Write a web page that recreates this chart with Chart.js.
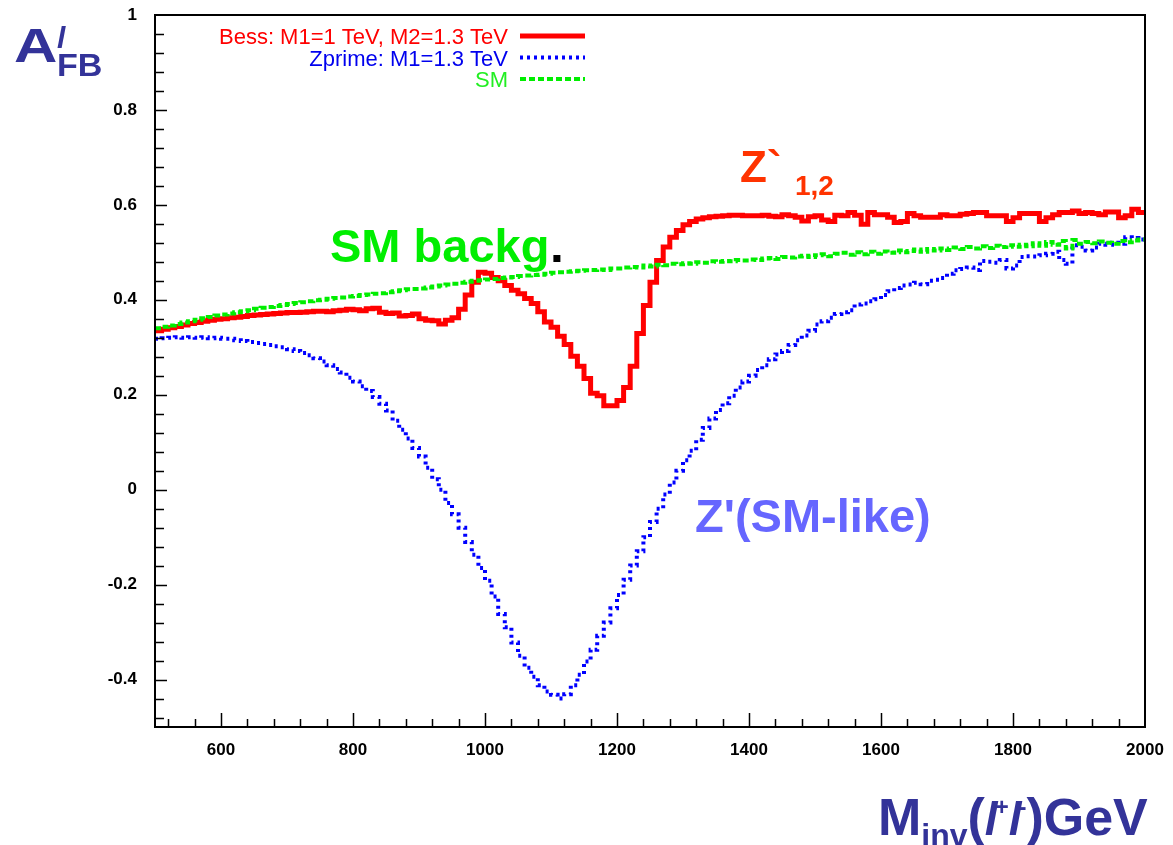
<!DOCTYPE html>
<html>
<head>
<meta charset="utf-8">
<title>A_FB vs M_inv</title>
<script src="https://cdn.jsdelivr.net/npm/chart.js@4.4.0/dist/chart.umd.min.js"></script>
<style>
  html,body{margin:0;padding:0;background:#fff;}
  #wrap{position:relative;width:1173px;height:845px;}
</style>
</head>
<body>
<div id="wrap"><canvas id="afb" width="1173" height="845"></canvas></div>
<script>
/* ============================================================
   Forward-backward asymmetry A_FB vs dilepton invariant mass.
   Three 10 GeV histograms (Bess, Zprime, SM), drawn as stepped
   lines on a linear x axis, ROOT-like frame with inside ticks.
   ============================================================ */

const FONT = '"Liberation Sans", Arial, Helvetica, sans-serif';

// bin centres, 10 GeV wide, 500..2000 GeV
const binCentres = Array.from({length:150}, (_,i) => 505 + 10*i);

const bess = [
  0.335,0.338,0.341,0.344,0.347,0.350,0.352,0.355,0.357,0.359,
  0.360,0.362,0.363,0.365,0.367,0.368,0.369,0.370,0.371,0.372,
  0.373,0.373,0.374,0.375,0.376,0.376,0.375,0.377,0.378,0.380,
  0.379,0.377,0.381,0.382,0.374,0.371,0.372,0.366,0.367,0.370,
  0.360,0.357,0.356,0.349,0.357,0.362,0.380,0.410,0.437,0.458,
  0.456,0.447,0.440,0.430,0.420,0.413,0.403,0.392,0.375,0.353,
  0.342,0.323,0.306,0.281,0.260,0.234,0.203,0.198,0.177,0.177,
  0.188,0.215,0.260,0.329,0.388,0.437,0.483,0.511,0.532,0.546,
  0.558,0.565,0.570,0.573,0.575,0.576,0.577,0.578,0.578,0.577,
  0.577,0.577,0.578,0.576,0.575,0.579,0.577,0.574,0.566,0.575,
  0.577,0.568,0.565,0.578,0.577,0.584,0.578,0.559,0.584,0.579,
  0.579,0.574,0.563,0.565,0.582,0.577,0.574,0.574,0.574,0.579,
  0.577,0.577,0.580,0.582,0.584,0.584,0.577,0.577,0.577,0.565,
  0.573,0.582,0.582,0.582,0.565,0.573,0.579,0.584,0.584,0.587,
  0.582,0.584,0.582,0.579,0.585,0.585,0.573,0.577,0.591,0.584
];

const zprime = [
  0.318,0.319,0.320,0.321,0.320,0.321,0.320,0.321,0.319,0.320,
  0.318,0.318,0.315,0.313,0.311,0.309,0.307,0.305,0.302,0.300,
  0.296,0.292,0.288,0.283,0.277,0.270,0.262,0.254,0.247,0.236,
  0.228,0.218,0.208,0.195,0.181,0.167,0.145,0.126,0.108,0.088,
  0.070,0.046,0.022,0.000,-0.028,-0.052,-0.080,-0.110,-0.137,-0.165,
  -0.192,-0.225,-0.262,-0.290,-0.322,-0.350,-0.375,-0.394,-0.412,-0.425,
  -0.432,-0.440,-0.431,-0.412,-0.390,-0.362,-0.337,-0.308,-0.280,-0.250,
  -0.222,-0.190,-0.160,-0.130,-0.100,-0.068,-0.040,-0.010,0.015,0.040,
  0.062,0.082,0.105,0.130,0.150,0.168,0.182,0.198,0.215,0.228,
  0.240,0.252,0.262,0.275,0.285,0.292,0.305,0.315,0.325,0.335,
  0.348,0.355,0.362,0.370,0.374,0.378,0.390,0.392,0.397,0.401,
  0.410,0.418,0.425,0.430,0.432,0.436,0.433,0.440,0.442,0.446,
  0.455,0.462,0.465,0.468,0.463,0.482,0.480,0.478,0.484,0.466,
  0.472,0.490,0.492,0.491,0.494,0.497,0.501,0.484,0.476,0.515,
  0.512,0.504,0.510,0.518,0.516,0.520,0.518,0.532,0.530,0.527
];

const sm = [
  0.340,0.343,0.346,0.349,0.352,0.355,0.358,0.361,0.364,0.367,
  0.369,0.371,0.374,0.376,0.378,0.381,0.383,0.385,0.387,0.389,
  0.391,0.393,0.395,0.397,0.399,0.400,0.402,0.404,0.405,0.407,
  0.408,0.410,0.411,0.413,0.414,0.416,0.418,0.420,0.422,0.423,
  0.424,0.426,0.428,0.430,0.432,0.434,0.436,0.438,0.440,0.441,
  0.443,0.444,0.446,0.447,0.448,0.450,0.451,0.452,0.453,0.455,
  0.457,0.458,0.459,0.460,0.461,0.462,0.463,0.464,0.463,0.466,
  0.466,0.468,0.469,0.468,0.472,0.470,0.474,0.473,0.476,0.475,
  0.477,0.476,0.479,0.478,0.481,0.480,0.482,0.481,0.484,0.483,
  0.485,0.484,0.487,0.488,0.486,0.490,0.489,0.491,0.493,0.490,
  0.494,0.496,0.492,0.497,0.499,0.495,0.500,0.496,0.501,0.497,
  0.502,0.499,0.504,0.500,0.503,0.506,0.501,0.507,0.504,0.508,
  0.505,0.510,0.507,0.511,0.508,0.513,0.509,0.514,0.511,0.515,
  0.512,0.516,0.513,0.519,0.514,0.522,0.516,0.524,0.508,0.526,
  0.518,0.522,0.519,0.523,0.520,0.518,0.524,0.521,0.525,0.527
];

const xTicks = [600,800,1000,1200,1400,1600,1800,2000];
const yTicks = [-0.4,-0.2,0,0.2,0.4,0.6,0.8,1];
const xRange = [500,2000], yRange = [-0.5,1.0];

const legendRows = [
  {label:'Bess: M1=1 TeV, M2=1.3 TeV', color:'#ff0000', text:'#ff0000', width:5, dash:[]},
  {label:'Zprime: M1=1.3 TeV', color:'#0000ff', text:'#0000ee', width:4, dash:[3,4]},
  {label:'SM', color:'#00ee00', text:'#22ee22', width:4, dash:[6,3]}
];

// histogram -> stepped points, closing the half bins at both edges
function histPoints(vals){
  const pts = binCentres.map((c,i) => ({x:c, y:vals[i]}));
  pts.unshift({x:xRange[0], y:vals[0]});
  pts.push({x:xRange[1], y:vals[vals.length-1]});
  return pts;
}

function txt(ctx, s, x, y, font, color, align){
  ctx.font = font; ctx.fillStyle = color; ctx.textAlign = align || 'left';
  ctx.textBaseline = 'alphabetic';
  ctx.fillText(s, x, y);
  return ctx.measureText(s).width;
}

// text stretched horizontally by sx (ROOT fonts render wider than Liberation)
function wideTxt(ctx, s, x, y, font, color, sx){
  ctx.save();
  ctx.translate(x, y); ctx.scale(sx, 1);
  const w = txt(ctx, s, 0, 0, font, color);
  ctx.restore();
  return w*sx;
}

const framePlugin = {
  id:'frame',
  afterDatasetsDraw(chart){
    const {ctx, chartArea:a, scales:{x, y}} = chart;
    ctx.save();
    ctx.strokeStyle = '#000';
    ctx.lineWidth = 2;
    ctx.strokeRect(a.left, a.top, a.right-a.left, a.bottom-a.top);
    ctx.lineWidth = 1.5;
    ctx.beginPath();
    for(let v = 520; v < 2000; v += 40){
      const px = Math.round(x.getPixelForValue(v)) + 0.5;
      const len = v % 200 === 0 ? 14 : 8;
      ctx.moveTo(px, a.bottom); ctx.lineTo(px, a.bottom - len);
    }
    for(let k = -12; k < 25; k++){
      const py = Math.round(y.getPixelForValue(k*0.04)) + 0.5;
      const len = k % 5 === 0 ? 12 : 9;
      ctx.moveTo(a.left, py); ctx.lineTo(a.left + len, py);
    }
    ctx.stroke();
    ctx.restore();
  },
  afterDraw(chart){
    const ctx = chart.ctx;
    ctx.save();
    // legend, text right aligned, sample line to the right
    legendRows.forEach((r,i) => {
      const yy = 36 + i*21.5;
      txt(ctx, r.label, 508, yy + 8, '22px ' + FONT, r.text, 'right');
      ctx.beginPath();
      ctx.setLineDash(r.dash);
      ctx.strokeStyle = r.color; ctx.lineWidth = r.width;
      ctx.moveTo(520, yy); ctx.lineTo(585, yy);
      ctx.stroke();
    });
    ctx.setLineDash([]);

    // y title  A^l_FB
    const navy = '#333399';
    wideTxt(ctx, 'A', 14, 62, 'bold 48px ' + FONT, navy, 1.25);
    txt(ctx, 'l', 57, 48, 'italic bold 30px ' + FONT, navy);
    wideTxt(ctx, 'FB', 57, 76, 'bold 31px ' + FONT, navy, 1.1);

    // x title  M_inv(l+l-)GeV
    let xx = 878;
    xx += txt(ctx, 'M', xx, 835, 'bold 52px ' + FONT, navy);
    xx += txt(ctx, 'inv', xx, 846, 'bold 32px ' + FONT, navy);
    xx += txt(ctx, '(', xx, 835, 'bold 52px ' + FONT, navy);
    xx += txt(ctx, 'l', xx, 835, 'italic bold 46px ' + FONT, navy);
    xx += txt(ctx, '+', xx - 3, 815, 'bold 24px ' + FONT, navy) - 3;
    xx += txt(ctx, 'l', xx, 835, 'italic bold 46px ' + FONT, navy);
    xx += txt(ctx, '-', xx - 3, 815, 'bold 24px ' + FONT, navy) - 3;
    xx += txt(ctx, ')', xx, 835, 'bold 52px ' + FONT, navy);
    txt(ctx, 'GeV', xx, 835, 'bold 52px ' + FONT, navy);

    // in-plot labels
    const w = txt(ctx, 'SM backg', 330, 262, 'bold 47px ' + FONT, '#00ee00');
    ctx.fillStyle = '#000';
    ctx.fillRect(330 + w + 4, 255, 7, 7);

    let zx = 740;
    zx += txt(ctx, 'Z', zx, 182, 'bold 44px ' + FONT, '#ff3300');
    txt(ctx, '`', zx, 182, 'bold 44px ' + FONT, '#ff3300');
    txt(ctx, '1,2', 795, 195, 'bold 28px ' + FONT, '#ff3300');

    txt(ctx, "Z'(SM-like)", 695, 532, 'bold 47px ' + FONT, '#6666ff');
    ctx.restore();
  }
};

new Chart(document.getElementById('afb'), {
  type:'line',
  data:{
    datasets:[
      {label:'Bess', data:histPoints(bess), borderColor:'#ff0000', borderWidth:5,
       stepped:'middle', pointRadius:0, fill:false, order:3},
      {label:'Zprime', data:histPoints(zprime), borderColor:'#0000ff', borderWidth:4,
       borderDash:[3,4], stepped:'middle', pointRadius:0, fill:false, order:2},
      {label:'SM', data:histPoints(sm), borderColor:'#00ee00', borderWidth:4,
       borderDash:[6,3], stepped:'middle', pointRadius:0, fill:false, order:1}
    ]
  },
  options:{
    responsive:false,
    animation:false,
    events:[],
    layout:{padding:{left:0, top:15, right:28, bottom:0}},
    plugins:{legend:{display:false}, tooltip:{enabled:false}},
    scales:{
      x:{
        type:'linear', min:xRange[0], max:xRange[1],
        afterBuildTicks:s => { s.ticks = xTicks.map(v => ({value:v})); },
        afterFit:s => { s.height = 118; s.paddingLeft = 0; s.paddingRight = 0; },
        grid:{display:false, drawTicks:false},
        border:{display:false},
        ticks:{color:'#000', padding:13, maxRotation:0, autoSkip:false,
               font:{family:FONT, size:17, weight:'bold'}, callback:v => String(v)}
      },
      y:{
        type:'linear', min:yRange[0], max:yRange[1],
        afterBuildTicks:s => { s.ticks = yTicks.map(v => ({value:v})); },
        afterFit:s => { s.width = 155; s.paddingTop = 0; s.paddingBottom = 0; },
        grid:{display:false, drawTicks:false},
        border:{display:false},
        ticks:{color:'#000', padding:18, autoSkip:false,
               font:{family:FONT, size:17, weight:'bold'}, callback:v => String(v)}
      }
    }
  },
  plugins:[framePlugin]
});
</script>
</body>
</html>
